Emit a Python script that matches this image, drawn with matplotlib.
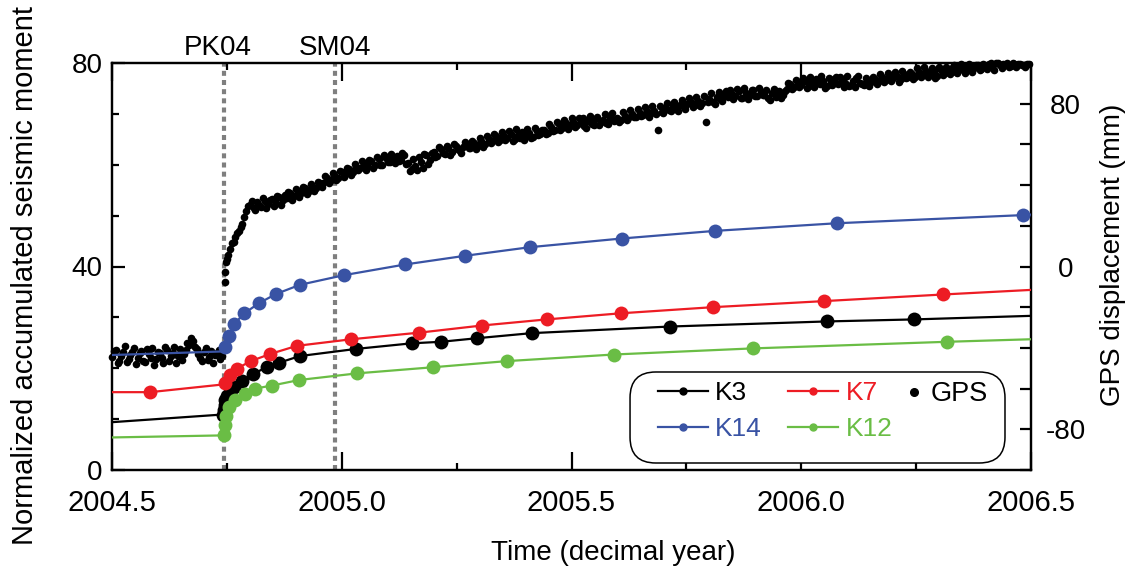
import numpy as np
import matplotlib
matplotlib.use("Agg")
import matplotlib.pyplot as plt
from matplotlib.lines import Line2D
from matplotlib.patches import FancyBboxPatch

plt.rcParams['font.family'] = ['Liberation Sans', 'DejaVu Sans']
plt.rcParams['axes.unicode_minus'] = False

# ---------------- data ----------------
# model curves (left axis, normalized accumulated seismic moment)
k3_t = [2004.742, 2004.743, 2004.745, 2004.747, 2004.750, 2004.756, 2004.765, 2004.782,
        2004.807, 2004.837, 2004.864, 2004.909, 2005.031, 2005.152, 2005.216, 2005.294,
        2005.413, 2005.714, 2006.055, 2006.246]
k3_v = [10.9, 11.8, 12.8, 13.7, 14.5, 15.4, 16.4, 17.4,
        18.9, 20.2, 21.1, 22.4, 23.8, 24.9, 25.2, 25.9,
        26.9, 28.2, 29.2, 29.6]
k3_line_t = [2004.5, 2004.740] + k3_t + [2006.5]
k3_line_v = [9.4, 10.9] + k3_v + [30.3]

k7_t = [2004.583, 2004.746, 2004.757, 2004.771, 2004.802, 2004.844, 2004.902, 2005.021,
        2005.169, 2005.305, 2005.446, 2005.607, 2005.807, 2006.050, 2006.309]
k7_v = [15.3, 17.1, 18.6, 19.9, 21.4, 22.8, 24.4, 25.7,
        27.0, 28.4, 29.6, 30.8, 32.0, 33.2, 34.5]
k7_line_t = [2004.5, 2004.583, 2004.740] + k7_t[1:] + [2006.5]
k7_line_v = [15.3, 15.3, 16.8] + k7_v[1:] + [35.4]

k14_t = [2004.746, 2004.755, 2004.766, 2004.788, 2004.820, 2004.857, 2004.909, 2005.005,
         2005.138, 2005.268, 2005.410, 2005.609, 2005.812, 2006.077, 2006.482]
k14_v = [24.2, 26.4, 28.7, 30.8, 32.8, 34.6, 36.4, 38.3,
         40.4, 42.1, 43.8, 45.5, 47.0, 48.5, 50.1]
k14_line_t = [2004.5, 2004.740] + k14_t + [2006.5]
k14_line_v = [22.6, 23.3] + k14_v + [50.2]

k12_t = [2004.744, 2004.746, 2004.749, 2004.754, 2004.768, 2004.789, 2004.811, 2004.848,
         2004.908, 2005.034, 2005.199, 2005.359, 2005.592, 2005.894, 2006.317]
k12_v = [6.9, 8.8, 10.6, 12.3, 13.8, 14.9, 16.0, 16.6,
         17.7, 19.0, 20.2, 21.4, 22.7, 23.9, 25.2]
k12_line_t = [2004.5, 2004.740] + k12_t + [2006.5]
k12_line_v = [6.4, 6.8] + k12_v + [25.7]

# GPS displacement (right axis, mm); two interleaved sample sets, 0.008 yr apart
gps_pre_a_mm = [-44.5, -40.8, -46.2, -42.1, -47.0, -43.3, -39.9, -45.1, -41.6, -46.8,
                -43.0, -40.2, -45.6, -42.4, -47.3, -41.0, -44.1, -39.5, -43.8, -46.0,
                -41.2, -38.6, -36.4, -40.5, -44.8, -42.0, -45.9, -41.4, -43.6, -40.9,
                -44.2]
gps_pre_b_mm = [-41.5, -47.6, -43.9, -38.9, -45.7, -41.8, -48.1, -42.7, -46.4, -40.3,
                -44.9, -48.3, -41.9, -45.0, -39.8, -46.6, -42.5, -47.4, -40.7, -43.2,
                -37.8, -35.2, -39.4, -42.9, -46.5, -40.0, -44.6, -47.2, -42.3, -45.4]
gps_jump_t = [2004.745, 2004.746, 2004.748, 2004.750, 2004.753, 2004.757, 2004.761, 2004.765,
              2004.768, 2004.772, 2004.776, 2004.780, 2004.784, 2004.788, 2004.792, 2004.796]
gps_jump_mm = [-7.5, -2.8, 2.3, 3.5, 5.8, 8.5, 11.4, 12.0,
               14.7, 16.3, 17.2, 19.6, 21.0, 24.5, 27.5, 29.5]
gps_post_a_mm = [
    30.2, 28.6, 31.5, 29.4, 32.0, 30.8, 33.1, 31.2, 34.0, 32.6,
    33.8, 35.9, 34.6, 37.2, 36.1, 38.4, 37.0, 39.5, 38.6, 41.2,
    40.8, 43.5, 42.6, 44.9, 43.7, 46.2, 45.3, 47.8, 46.4, 49.1,
    48.2, 50.6, 49.3, 51.8, 50.1, 52.7, 49.8, 53.4, 51.5, 52.9,
    54.1, 52.2, 55.0, 51.0, 47.8, 49.5, 53.6, 48.6, 54.8, 52.4,
    56.3, 54.1, 57.5, 55.2, 58.0, 56.4, 59.1, 57.2, 58.6, 60.2,
    58.4, 60.6, 59.2, 61.9, 60.3, 62.8, 61.5, 63.9, 62.4, 64.6,
    63.1, 65.3, 62.7, 64.8, 66.2, 64.0, 65.7, 63.6, 66.5, 65.1,
    67.3, 65.8, 68.6, 67.2, 69.8, 68.1, 70.4, 69.0, 71.2, 69.6,
    70.8, 68.9, 71.5, 70.2, 72.3, 69.7, 71.9, 70.6, 72.8, 71.4,
    73.1, 71.8, 74.2, 72.9, 75.0, 73.6, 75.6, 74.4, 76.3, 75.2,
    76.5, 67.0, 76.0, 78.0, 77.0, 78.8, 77.5, 79.6, 78.4, 79.9,
    80.6, 79.3, 81.5, 80.2, 71.0, 82.3, 81.0, 83.4, 82.1, 84.0,
    83.2, 85.1, 84.0, 86.2, 82.8, 85.5, 84.3, 86.6, 83.9, 85.8,
    84.5, 82.6, 85.3, 83.4, 86.0, 84.1, 87.2, 89.5, 88.3, 90.6,
    89.2, 91.4, 88.6, 90.8, 92.0, 89.5, 91.2, 88.8, 90.5, 92.3,
    89.7, 91.9, 90.4, 88.9, 91.3, 92.5, 90.1, 89.4, 91.8, 90.6,
    92.2, 90.8, 93.1, 91.6, 94.0, 92.4, 93.7, 91.9, 94.6, 93.2,
    94.8, 93.3, 95.6, 94.1, 96.2, 94.7, 95.9, 93.8, 96.6, 95.3,
    96.1, 97.4, 95.5, 97.9, 96.6, 98.3, 96.9, 97.6, 98.8, 97.2,
    98.4, 99.6, 97.8, 99.8, 98.9, 99.4, 99.8, 98.6, 99.7, 99.5,
    99.1, 98.2, 99.3]
gps_post_b_mm = [
    32.4, 27.9, 30.1, 33.6, 28.8, 32.9, 29.7, 34.5, 30.4, 35.1,
    36.8, 32.9, 38.0, 34.3, 39.2, 35.6, 40.3, 36.9, 41.5, 39.0,
    44.6, 41.0, 45.8, 42.3, 47.1, 44.0, 48.6, 45.1, 50.2, 47.5,
    51.6, 47.4, 52.5, 48.6, 53.9, 50.0, 54.6, 51.2, 55.2, 50.8,
    51.9, 55.6, 50.2, 46.9, 52.8, 47.2, 51.4, 55.3, 50.6, 56.0,
    53.8, 58.7, 55.9, 59.4, 54.6, 60.1, 57.8, 56.0, 61.3, 58.1,
    61.7, 57.6, 63.0, 58.9, 64.1, 60.7, 65.2, 61.1, 66.0, 62.2,
    66.8, 61.9, 67.4, 63.3, 62.0, 67.7, 63.2, 68.0, 64.4, 67.2,
    64.9, 69.9, 66.4, 71.0, 66.9, 72.2, 67.8, 72.9, 68.4, 73.1,
    73.0, 68.2, 74.1, 69.4, 73.6, 71.2, 74.8, 69.9, 75.2, 72.5,
    70.9, 75.8, 72.2, 77.0, 73.4, 77.6, 74.0, 78.3, 73.7, 78.8,
    74.8, 79.1, 75.4, 80.3, 76.2, 81.0, 76.6, 81.9, 77.5, 82.6,
    78.2, 83.1, 79.0, 84.0, 80.7, 85.2, 79.8, 85.9, 81.4, 86.3,
    86.9, 82.1, 87.4, 83.0, 87.8, 82.5, 86.7, 83.6, 87.6, 84.2,
    86.8, 81.9, 87.1, 84.6, 82.7, 86.3, 90.1, 87.4, 91.8, 88.0,
    92.8, 87.7, 93.1, 88.2, 90.1, 93.4, 87.9, 92.6, 89.3, 93.0,
    92.9, 88.4, 93.6, 89.1, 88.0, 93.8, 89.9, 92.7, 88.6, 93.3,
    89.8, 94.5, 90.6, 95.1, 91.2, 95.6, 90.8, 96.0, 92.5, 95.8,
    92.3, 97.3, 92.9, 97.8, 93.2, 97.6, 92.8, 98.2, 94.1, 97.9,
    94.7, 98.9, 95.2, 99.3, 94.9, 99.5, 95.8, 99.1, 96.4, 99.6,
    97.0, 99.8, 96.8, 99.9, 97.5, 99.2, 97.9, 99.8, 98.1, 99.6,
    98.8, 99.7]
gps_step = 0.008
gps_pre_a_t = 2004.500 + gps_step * np.arange(len(gps_pre_a_mm))
gps_pre_b_t = 2004.504 + gps_step * np.arange(len(gps_pre_b_mm))
gps_post_a_t = 2004.800 + gps_step * np.arange(len(gps_post_a_mm))
gps_post_b_t = 2004.804 + gps_step * np.arange(len(gps_post_b_mm))

events_t = [2004.744, 2004.985]
events_lab = ['PK04', 'SM04']

x_major = [2004.5, 2005.0, 2005.5, 2006.0, 2006.5]
x_labels = ['2004.5', '2005.0', '2005.5', '2006.0', '2006.5']
y_major = [0, 40, 80]
y2_major = [-80, 0, 80]

# ---------------- plot ----------------
BLACK = '#000000'
RED = '#ED1C24'
BLUE = '#3953A4'
GREEN = '#6ABD45'
GRAY = '#7F7F7F'

fig = plt.figure(figsize=(11.34, 5.76), dpi=100)
ax = fig.add_axes([112 / 1134, 106 / 576, 919 / 1134, 407 / 576])
ax2 = ax.twinx()
ax.set_zorder(ax2.get_zorder() + 1)
ax.patch.set_visible(False)

ax.set_xlim(2004.5, 2006.5)
ax.set_ylim(0, 80)
ax2.set_ylim(-100, 100)

# event lines
for t in events_t:
    ax2.axvline(t, color=GRAY, lw=3, ls=(0, (1.2, 1.0)), zorder=1)
for t, lab, dx in zip(events_t, events_lab, [-0.014, 0.0]):
    ax.text(t + dx, 81.6, lab, ha='center', va='baseline', fontsize=20)

# GPS
gps_t = np.concatenate([gps_pre_a_t, gps_pre_b_t, gps_jump_t, gps_post_a_t, gps_post_b_t])
gps_mm = np.concatenate([gps_pre_a_mm, gps_pre_b_mm, gps_jump_mm, gps_post_a_mm, gps_post_b_mm])
ax2.plot(gps_t, gps_mm, 'o', color=BLACK, ms=5.5, mew=0, zorder=3, clip_on=False)

# model curves
ms = 10
for lt, lv, mt, mv, c in [(k3_line_t, k3_line_v, k3_t, k3_v, BLACK),
                          (k7_line_t, k7_line_v, k7_t, k7_v, RED),
                          (k12_line_t, k12_line_v, k12_t, k12_v, GREEN),
                          (k14_line_t, k14_line_v, k14_t, k14_v, BLUE)]:
    ax.plot(lt, lv, '-', color=c, lw=1.6, zorder=3)
    ax.plot(mt, mv, 'o', color=c, ms=ms, mew=0, zorder=4)

# axes styling
for a in (ax, ax2):
    for s in a.spines.values():
        s.set_linewidth(1.6)

ax.set_xticks(x_major)
ax.set_xticklabels(x_labels)
ax.set_xticks(np.arange(2004.75, 2006.5, 0.5), minor=True)
ax.set_yticks(y_major)
ax.set_yticks(np.arange(0, 81, 10), minor=True)
ax.tick_params(axis='x', which='both', direction='in', top=True, bottom=True,
               labelsize=21, width=1.6, pad=14)
ax.tick_params(axis='x', which='major', length=13)
ax.tick_params(axis='x', which='minor', length=5)
ax.tick_params(axis='y', which='both', direction='in', left=True, right=False,
               labelsize=20, width=1.6, pad=7)
ax.tick_params(axis='y', which='major', length=9)
ax.tick_params(axis='y', which='minor', length=5)

ax2.set_yticks(y2_major)
ax2.set_yticks(np.arange(-100, 101, 20), minor=True)
ax2.tick_params(axis='y', which='both', direction='in', right=True, left=False,
                labelsize=20, width=1.6, length=8, pad=25)
for lab in ax2.get_yticklabels():
    lab.set_horizontalalignment('center')

ax.set_xlabel('Time (decimal year)', fontsize=20)
ax.xaxis.set_label_coords(0.545, -0.172)
ax.set_ylabel('Normalized accumulated seismic moment', fontsize=21)
ax.yaxis.set_label_coords(-0.079, 0.479)
ax2.set_ylabel('GPS displacement (mm)', fontsize=20, rotation=90)
ax2.yaxis.set_label_coords(1.075, 0.528)

# legend: rounded frame + two frameless legends
frame = FancyBboxPatch((0.5637, 0.0172), 0.408, 0.2236,
                       boxstyle='round,pad=0,rounding_size=0.028',
                       mutation_aspect=919 / 407, transform=ax.transAxes,
                       facecolor='white', edgecolor='black', lw=1.1, zorder=9,
                       clip_on=False)
ax.add_patch(frame)

hk3 = Line2D([], [], color=BLACK, lw=1.6, marker='o', ms=5)
hk7 = Line2D([], [], color=RED, lw=1.6, marker='o', ms=5)
hk14 = Line2D([], [], color=BLUE, lw=1.6, marker='o', ms=5)
hk12 = Line2D([], [], color=GREEN, lw=1.6, marker='o', ms=5)
hgps = Line2D([], [], color=BLACK, ls='none', marker='o', ms=5.5)

leg_top = 0.218
leg1 = ax.legend([hk3, hk14, hk7, hk12], ['K3', 'K14', 'K7', 'K12'],
                 ncol=2, loc='upper left', bbox_to_anchor=(0.594, leg_top),
                 fontsize=19, handlelength=1.9, handletextpad=0.27,
                 columnspacing=1.0, labelspacing=0.44, borderpad=0,
                 borderaxespad=0, frameon=False)
for txt, c in zip(leg1.get_texts(), [BLACK, BLUE, RED, GREEN]):
    txt.set_color(c)
leg1.set_zorder(10)
ax.add_artist(leg1)

leg2 = ax.legend([hgps], ['GPS'], loc='upper left', bbox_to_anchor=(0.864, leg_top),
                 fontsize=19.5, handlelength=0.6, handletextpad=0.3, borderpad=0,
                 borderaxespad=0, frameon=False)
leg2.set_zorder(10)

fig.savefig('out.png', dpi=100)
